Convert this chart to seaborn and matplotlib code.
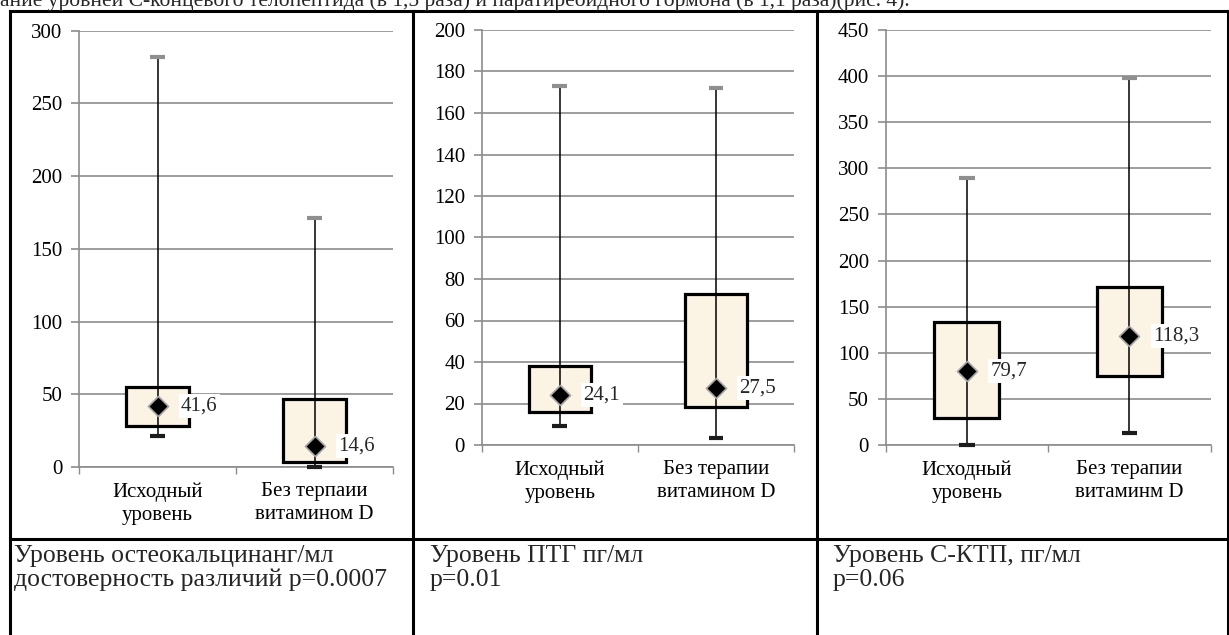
import numpy as np
import pandas as pd
import matplotlib
matplotlib.use("Agg")
import matplotlib.pyplot as plt
from matplotlib.lines import Line2D
import seaborn as sns

sns.set_theme(style="ticks")
plt.rcParams["font.family"] = ["Liberation Serif", "DejaVu Serif"]

# Summary statistics per group: lower whisker, Q1, mean, Q3, upper whisker
osteo_groups = ["Исходный\nуровень", "Без терпаии\nвитамином D"]
osteo_low = [21, 0]
osteo_q1 = [28.5, 3.5]
osteo_mean = [41.6, 14.6]
osteo_q3 = [55, 47]
osteo_high = [282, 171]
osteo_ticks = [0, 50, 100, 150, 200, 250, 300]

ptg_groups = ["Исходный\nуровень", "Без терапии\nвитамином D"]
ptg_low = [9, 3.5]
ptg_q1 = [16, 18.5]
ptg_mean = [24.1, 27.5]
ptg_q3 = [38, 73]
ptg_high = [173, 172]
ptg_ticks = [0, 20, 40, 60, 80, 100, 120, 140, 160, 180, 200]

ctp_groups = ["Исходный\nуровень", "Без терапии\nвитаминм D"]
ctp_low = [0, 13]
ctp_q1 = [29, 75]
ctp_mean = [79.7, 118.3]
ctp_q3 = [133, 171]
ctp_high = [289, 398]
ctp_ticks = [0, 50, 100, 150, 200, 250, 300, 350, 400, 450]

captions = [
    "Уровень остеокальцинанг/мл\nдостоверность различий p=0.0007",
    "Уровень ПТГ пг/мл\np=0.01",
    "Уровень С-КТП, пг/мл\np=0.06",
]
header = ("ание уровней С-концевого телопептида (в 1,5 раза) и паратиреоидного "
          "гормона (в 1,1 раза)(рис. 4).")

GRID = "#8c8c8c"
BOX_FILL = "#fbf3e4"
W, H = 1229, 635
FS = 15

fig = plt.figure(figsize=(W / 100, H / 100), dpi=100)


def px_axes(x0, y0, x1, y1):
    return fig.add_axes([x0 / W, 1 - y1 / H, (x1 - x0) / W, (y1 - y0) / H])


def draw_panel(ax, cats, low, q1, mean, q3, high, ticks):
    summary = np.column_stack([low, q1, mean, q3, high])
    df = pd.DataFrame({
        "group": np.repeat(cats, summary.shape[1]),
        "value": summary.ravel(),
    })
    sns.boxplot(data=df, x="group", y="value", order=cats, whis=(0, 100),
                width=0.4, color=BOX_FILL, saturation=1, linecolor="black",
                linewidth=2.3, showcaps=False, showfliers=False,
                medianprops={"visible": False},
                whiskerprops={"visible": False}, ax=ax)
    pos = np.arange(len(cats))
    # full whisker line running through the box
    ax.vlines(pos, low, high, colors="black", lw=1.1, zorder=3)
    ax.hlines(high, pos - 0.047, pos + 0.047, colors="#8f8f8f", lw=3,
              zorder=4, clip_on=False)
    ax.hlines(low, pos - 0.047, pos + 0.047, colors="#1c1c1c", lw=3,
              zorder=4, clip_on=False)
    sns.scatterplot(x=pos, y=mean, marker="D", s=105, color="black",
                    edgecolor="#a5a5a5", linewidth=1.2, zorder=5, ax=ax,
                    legend=False)
    for p, m in zip(pos, mean):
        ax.annotate(f"{m:.1f}".replace(".", ","), xy=(p, m), xytext=(17, 0),
                    textcoords="offset points", ha="left", va="center",
                    fontsize=FS, zorder=6,
                    bbox=dict(boxstyle="square,pad=0.12", fc="white", ec="none"))

    ax.set_xlim(-0.5, len(cats) - 0.5)
    ax.set_ylim(ticks[0], ticks[-1])
    ax.set_yticks(ticks)
    ax.set_xticks([-0.5, 0.5, 1.5])
    ax.set_xticklabels([])
    ax.set_xticks(pos, minor=True)
    ax.set_xticklabels(cats, minor=True)
    for lbl in ax.get_xticklabels(minor=True):
        lbl.set_linespacing(1.3)
    ax.set_xlabel("")
    ax.set_ylabel("")
    ax.yaxis.grid(True, color=GRID, lw=1.2)
    ax.set_axisbelow(True)
    ax.tick_params(axis="x", which="major", bottom=True, length=5,
                   width=1, color=GRID, direction="out")
    ax.tick_params(axis="x", which="minor", bottom=True, length=0, pad=11,
                   labelsize=FS, labelcolor="black")
    ax.tick_params(axis="y", left=True, length=6, width=1.2, color=GRID,
                   pad=6, labelsize=FS, labelcolor="black")
    for side in ("top", "right"):
        ax.spines[side].set_visible(False)
    for side in ("left", "bottom"):
        ax.spines[side].set_color(GRID)
        ax.spines[side].set_linewidth(1.2)


ax1 = px_axes(79, 30.7, 393, 467)
draw_panel(ax1, osteo_groups, osteo_low, osteo_q1, osteo_mean, osteo_q3,
           osteo_high, osteo_ticks)
ax2 = px_axes(481.7, 30, 794, 445)
draw_panel(ax2, ptg_groups, ptg_low, ptg_q1, ptg_mean, ptg_q3,
           ptg_high, ptg_ticks)
ax3 = px_axes(885.7, 30, 1210.7, 445)
draw_panel(ax3, ctp_groups, ctp_low, ctp_q1, ctp_mean, ctp_q3,
           ctp_high, ctp_ticks)


def rule(x0, y0, x1, y1, lw=2.2):
    fig.add_artist(Line2D([x0 / W, x1 / W], [1 - y0 / H, 1 - y1 / H],
                          transform=fig.transFigure, color="black", lw=lw,
                          solid_capstyle="projecting"))


# table frame
rule(10, 11, 1228, 11)
rule(10, 539, 1228, 539)
for x in (10, 413, 817, 1228):
    rule(x, 11, x, H + 5)

fig.text(0, 1 - 6 / H, header, ha="left", va="baseline", fontsize=15.5)
for x, cap in zip((14, 430, 833), captions):
    fig.text(x / W, 1 - 545 / H, cap, ha="left", va="top", fontsize=18.5,
             linespacing=1.1)

fig.savefig("out.png", dpi=100)
